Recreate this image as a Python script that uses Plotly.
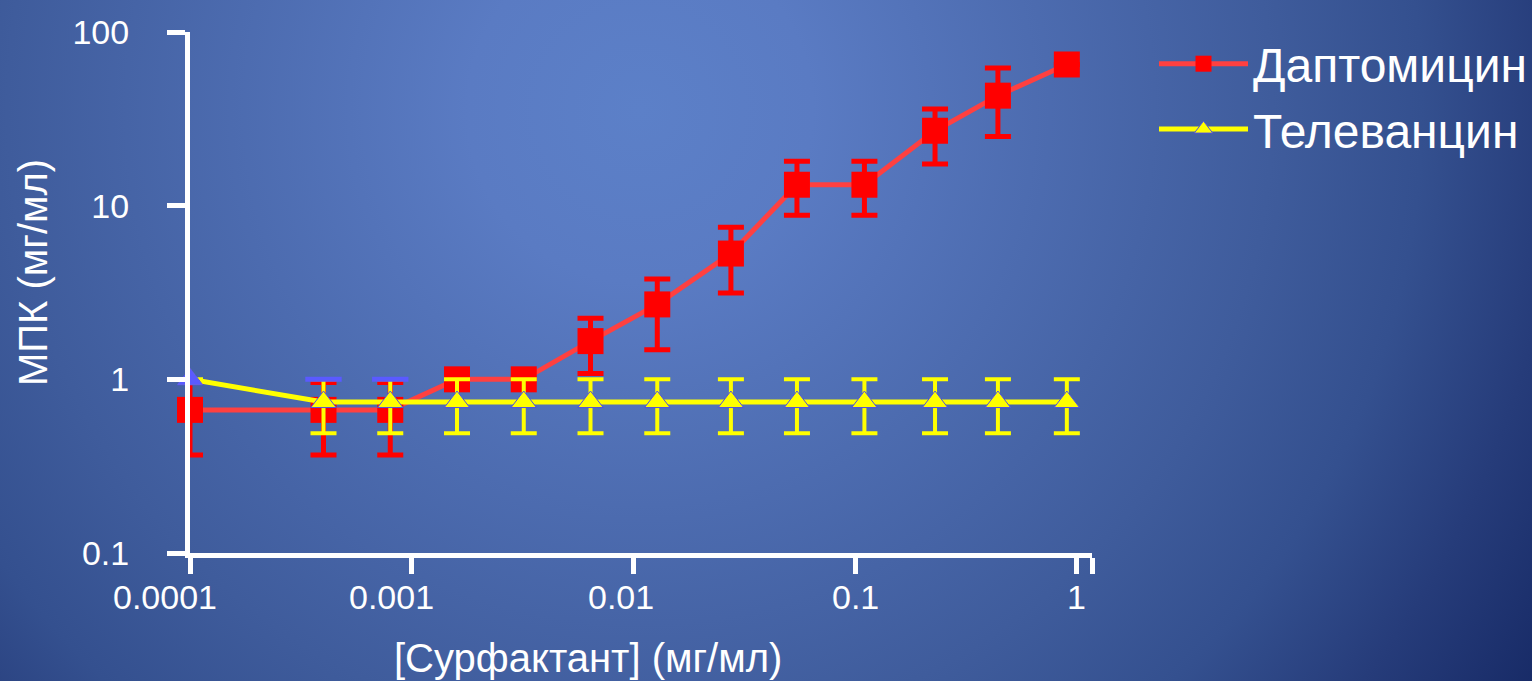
import base64
import math
import plotly.graph_objects as go

# ---- data ----
conc = [0.0001, 0.0004, 0.0008, 0.0016, 0.0032, 0.0064, 0.0128, 0.0275, 0.0546, 0.11, 0.229, 0.44, 0.90]

dapto_mic = [0.667, 0.667, 0.667, 1.0, 1.0, 1.66, 2.7, 5.3, 13.2, 13.2, 27.0, 43.0, 65.0]
dapto_hi = [0.96, 0.96, 0.96, 1.0, 1.0, 2.25, 3.78, 7.5, 18.0, 18.0, 36.0, 62.0, 65.0]
dapto_lo = [0.367, 0.367, 0.367, 1.0, 1.0, 1.08, 1.48, 3.14, 8.8, 8.8, 17.4, 25.0, 65.0]

tela_mic = [1.0, 0.74, 0.74, 0.74, 0.74, 0.74, 0.74, 0.74, 0.74, 0.74, 0.74, 0.74, 0.74]
tela_hi = [1.0, 1.0, 1.0, 1.0, 1.0, 1.0, 1.0, 1.0, 1.0, 1.0, 1.0, 1.0, 1.0]
tela_lo = [1.0, 0.49, 0.49, 0.49, 0.49, 0.49, 0.49, 0.49, 0.49, 0.49, 0.49, 0.49, 0.49]

blue_conc = [0.0001, 0.0004, 0.0008]
blue_val = [1.0, 1.0, 1.0]

x_ticks = [0.0001, 0.001, 0.01, 0.1, 1, 10 ** 0.0677]
x_ticktext = ["0.0001", "0.001", "0.01", "0.1", "1"]
x_label_shift = [-25, -20, -12, 0, 0]
y_ticks = [0.1, 1, 10, 100]
y_ticktext = ["0.1", "1", "10", "100"]

series_names = ["Даптомицин", "Телеванцин"]
x_title = "[Сурфактант] (мг/мл)"
y_title = "МПК (мг/мл)"

# ---- geometry ----
W, H = 1532, 681
ML, MR, MT, MB = 190, 440, 32, 128
PW, PH = W - ML - MR, H - MT - MB

FONT = "Liberation Sans, Arial, sans-serif"

svg = (
    f'<svg xmlns="http://www.w3.org/2000/svg" width="{W}" height="{H}" viewBox="0 0 {W} {H}" preserveAspectRatio="none">'
    '<defs><radialGradient id="g" gradientUnits="userSpaceOnUse" cx="640" cy="110" r="1150">'
    '<stop offset="0" stop-color="#5c80c8"/>'
    '<stop offset="0.15" stop-color="#5a7bc3"/>'
    '<stop offset="0.55" stop-color="#3f5c9c"/>'
    '<stop offset="0.68" stop-color="#34508f"/>'
    '<stop offset="0.80" stop-color="#263c7a"/>'
    '<stop offset="0.93" stop-color="#172a66"/>'
    '<stop offset="1" stop-color="#13265e"/>'
    '</radialGradient></defs>'
    f'<rect width="{W}" height="{H}" fill="url(#g)"/></svg>'
)
bg_src = "data:image/svg+xml;base64," + base64.b64encode(svg.encode()).decode()

fig = go.Figure()

fig.add_trace(go.Scatter(
    x=conc, y=dapto_mic, name=series_names[0], mode="lines+markers",
    line=dict(color="#ff4040", width=5),
    marker=dict(symbol="square", size=26, color="#ff0000", opacity=1),
    error_y=dict(type="data", symmetric=False,
                 array=[h - v for h, v in zip(dapto_hi, dapto_mic)],
                 arrayminus=[v - l for v, l in zip(dapto_mic, dapto_lo)],
                 color="#ff0000", thickness=5, width=13),
    cliponaxis=False,
))

fig.add_trace(go.Scatter(
    x=conc, y=tela_mic, name=series_names[1], mode="lines+markers",
    line=dict(color="#ffff00", width=5),
    marker=dict(symbol="triangle-up", size=22, color="#ffff00", opacity=1,
                line=dict(color="#5050e0", width=1)),
    error_y=dict(type="data", symmetric=False,
                 array=[h - v for h, v in zip(tela_hi, tela_mic)],
                 arrayminus=[v - l for v, l in zip(tela_mic, tela_lo)],
                 color="#ffff00", thickness=4, width=13),
    cliponaxis=False,
))

fig.add_trace(go.Scatter(
    x=blue_conc, y=blue_val, mode="markers", showlegend=False, hoverinfo="skip",
    marker=dict(symbol=["triangle-up", "line-ew", "line-ew"], size=[22, 26, 26], opacity=1,
                color="#5a5aff", line=dict(color="#5a5aff", width=[0, 5, 5])),
    cliponaxis=False,
))

axis_common = dict(
    showgrid=False, zeroline=False, showline=True, linecolor="white", linewidth=5,
    ticks="outside", tickcolor="white", tickwidth=5,
    tickfont=dict(family=FONT, size=34, color="white"),
)

annotations = [
    dict(text=x_title, xref="paper", yref="paper", x=(588 - ML) / PW, y=-(658 - (H - MB)) / PH,
         xanchor="center", yanchor="middle", showarrow=False,
         font=dict(family=FONT, size=40, color="white")),
    dict(text=y_title, xref="paper", yref="paper", x=(33 - ML) / PW, y=((H - MB) - 273) / PH,
         xanchor="center", yanchor="middle", showarrow=False, textangle=-90,
         font=dict(family=FONT, size=40, color="white")),
]
for val, txt, sh in zip(x_ticks, x_ticktext, x_label_shift):
    annotations.append(dict(
        text=txt, xref="x", yref="paper", x=math.log10(val), y=-(597 - (H - MB)) / PH,
        xanchor="center", yanchor="middle", xshift=sh, showarrow=False,
        font=dict(family=FONT, size=34, color="white")))

fig.update_layout(
    width=W, height=H,
    margin=dict(l=ML, r=MR, t=MT, b=MB, autoexpand=False),
    paper_bgcolor="#3f5c9c",
    plot_bgcolor="rgba(0,0,0,0)",
    xaxis=dict(type="log", range=[-4, 0.0677], tickvals=x_ticks, showticklabels=False,
               ticklen=16, **axis_common),
    yaxis=dict(type="log", range=[-1, 2], tickvals=y_ticks, ticktext=y_ticktext,
               ticklen=18, ticklabelstandoff=31, **axis_common),
    legend=dict(x=(1154 - ML) / PW, xanchor="left", y=1 + 6 / PH, yanchor="top",
                font=dict(family=FONT, size=48, color="white"),
                bgcolor="rgba(0,0,0,0)", itemwidth=89, tracegroupgap=0),
    showlegend=True,
    images=[dict(source=bg_src, xref="paper", yref="paper",
                 x=-ML / PW, y=1 + MT / PH, sizex=W / PW, sizey=H / PH,
                 xanchor="left", yanchor="top", sizing="stretch", layer="below")],
    annotations=annotations,
)

fig.write_html("out.html", config={"displayModeBar": False},
               post_script="document.body.style.margin='0';document.body.style.overflow='hidden';")
